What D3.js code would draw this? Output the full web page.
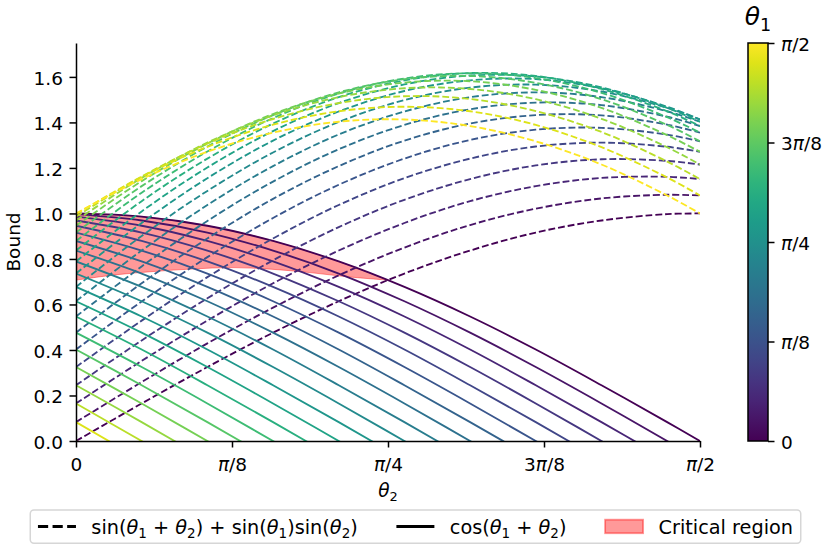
<!DOCTYPE html>
<html>
<head>
<meta charset="utf-8">
<script src="https://cdn.jsdelivr.net/npm/d3@7"></script>
<style>
  body { margin: 0; background: #fff; }
  svg { font-family: "DejaVu Sans", sans-serif; }
  text { white-space: pre; }
</style>
</head>
<body>
<svg id="chart" width="830" height="554"></svg>
<script>
// theta1 values (one curve pair per value), radians
const theta1 = [0, 0.0827, 0.1653, 0.2480, 0.3307, 0.4134, 0.4960, 0.5787, 0.6614, 0.7441,
                0.8267, 0.9094, 0.9921, 1.0748, 1.1574, 1.2401, 1.3228, 1.4054, 1.4881, 1.5708];

// theta2 positions where the curves were read
const theta2 = [0, 0.1653, 0.3307, 0.4960, 0.6614, 0.8267, 0.9921, 1.1574, 1.3228, 1.4881, 1.5708];

// dashed: sin(t1+t2) + sin(t1)sin(t2)
const sumBound = [
  [0, .165, .325, .476, .614, .736, .837, .916, .969, .997, 1],
  [.083, .259, .429, .586, .728, .850, .949, 1.021, 1.066, 1.082, 1.079],
  [.165, .352, .529, .693, .837, .958, 1.054, 1.120, 1.156, 1.161, 1.151],
  [.245, .442, .627, .794, .940, 1.060, 1.151, 1.211, 1.238, 1.231, 1.215],
  [.325, .529, .720, .890, 1.037, 1.155, 1.241, 1.294, 1.311, 1.293, 1.271],
  [.402, .613, .808, .980, 1.126, 1.241, 1.323, 1.368, 1.376, 1.346, 1.317],
  [.476, .693, .890, 1.064, 1.208, 1.320, 1.395, 1.432, 1.431, 1.390, 1.355],
  [.547, .767, .967, 1.140, 1.282, 1.389, 1.458, 1.487, 1.476, 1.425, 1.384],
  [.614, .837, 1.037, 1.208, 1.347, 1.448, 1.511, 1.532, 1.511, 1.449, 1.403],
  [.677, .901, 1.099, 1.268, 1.402, 1.498, 1.553, 1.566, 1.536, 1.464, 1.413],
  [.736, .958, 1.155, 1.320, 1.448, 1.538, 1.585, 1.590, 1.550, 1.469, 1.413],
  [.789, 1.009, 1.202, 1.362, 1.485, 1.567, 1.606, 1.602, 1.554, 1.464, 1.403],
  [.837, 1.054, 1.241, 1.395, 1.511, 1.585, 1.617, 1.604, 1.547, 1.449, 1.384],
  [.879, 1.091, 1.272, 1.419, 1.527, 1.593, 1.616, 1.595, 1.530, 1.423, 1.355],
  [.916, 1.120, 1.294, 1.432, 1.532, 1.590, 1.604, 1.574, 1.502, 1.389, 1.317],
  [.946, 1.142, 1.307, 1.437, 1.527, 1.575, 1.581, 1.543, 1.464, 1.344, 1.271],
  [.969, 1.156, 1.311, 1.431, 1.511, 1.550, 1.547, 1.502, 1.416, 1.291, 1.215],
  [.986, 1.162, 1.307, 1.415, 1.485, 1.515, 1.503, 1.450, 1.358, 1.228, 1.151],
  [.997, 1.161, 1.293, 1.390, 1.449, 1.469, 1.449, 1.389, 1.291, 1.158, 1.079],
  [1, 1.151, 1.271, 1.355, 1.403, 1.413, 1.384, 1.317, 1.215, 1.079, 1]
];

// solid: cos(t1+t2)
const cosBound = [
  [1, .986, .946, .879, .789, .677, .547, .402, .245, .083, 0],
  [.997, .969, .916, .837, .736, .614, .476, .325, .165, 0, -.083],
  [.986, .946, .879, .789, .677, .547, .402, .245, .083, -.083, -.165],
  [.969, .916, .837, .736, .614, .476, .325, .165, 0, -.165, -.245],
  [.946, .879, .789, .677, .547, .402, .245, .083, -.083, -.245, -.325],
  [.916, .837, .736, .614, .476, .325, .165, 0, -.165, -.325, -.402],
  [.879, .789, .677, .547, .402, .245, .083, -.083, -.245, -.402, -.476],
  [.837, .736, .614, .476, .325, .165, 0, -.165, -.325, -.476, -.547],
  [.789, .677, .547, .402, .245, .083, -.083, -.245, -.402, -.547, -.614],
  [.736, .614, .476, .325, .165, 0, -.165, -.325, -.476, -.614, -.677],
  [.677, .547, .402, .245, .083, -.083, -.245, -.402, -.547, -.677, -.736],
  [.614, .476, .325, .165, 0, -.165, -.325, -.476, -.614, -.736, -.789],
  [.547, .402, .245, .083, -.083, -.245, -.402, -.547, -.677, -.789, -.837],
  [.476, .325, .165, 0, -.165, -.325, -.476, -.614, -.736, -.837, -.879],
  [.402, .245, .083, -.083, -.245, -.402, -.547, -.677, -.789, -.879, -.916],
  [.325, .165, 0, -.165, -.325, -.476, -.614, -.736, -.837, -.916, -.946],
  [.245, .083, -.083, -.245, -.402, -.547, -.677, -.789, -.879, -.946, -.969],
  [.165, 0, -.165, -.325, -.476, -.614, -.736, -.837, -.916, -.969, -.986],
  [.083, -.083, -.245, -.402, -.547, -.677, -.789, -.879, -.946, -.986, -.997],
  [0, -.165, -.325, -.476, -.614, -.736, -.837, -.916, -.969, -.997, -1]
];

// critical region (pink band)
const regionTheta2 = [0, 0.0982, 0.1963, 0.2945, 0.3927, 0.4909, 0.5890, 0.6872, 0.7854];
const regionUpper = [1, 0.995, 0.981, 0.957, 0.924, 0.882, 0.831, 0.773, 0.707];
const regionLower = [0.707, 0.730, 0.745, 0.756, 0.762, 0.755, 0.740, 0.721, 0.707];

const angleTicks = [0, 0.3927, 0.7854, 1.1781, 1.5708];
const angleTickLabels = ["0", "π/8", "π/4", "3π/8", "π/2"];
const yTicks = [0, 0.2, 0.4, 0.6, 0.8, 1.0, 1.2, 1.4, 1.6];
const legendLabels = ["sin(θ1 + θ2) + sin(θ1)sin(θ2)", "cos(θ1 + θ2)", "Critical region"];

const fontSize = 18.5;
const legendFont = 19.3;
const lw = 1.85;
const tickLen = 6.5, tickPad = 6.5;

const svg = d3.select("#chart");

const x = d3.scaleLinear().domain([0, Math.PI / 2]).range([76, 700]);
const y = d3.scaleLinear().domain([0, 1.749]).range([441, 43]);
const color = d3.scaleSequential(d3.interpolateViridis).domain([0, Math.PI / 2]);

// mathtext-ish label: italic theta / pi, digit after theta as subscript
function mathLabel(el, str, size) {
    el.text(null);
    const shift = size * 0.22;
    let down = false;
    str.match(/θ\d?|π|[^θπ]+/g).forEach(tok => {
        let t;
        if (tok[0] === "θ" || tok === "π") {
            t = el.append("tspan").attr("font-style", "italic").text(tok[0]);
        } else {
            t = el.append("tspan").text(tok);
        }
        if (down) { t.attr("dy", -shift); down = false; }
        if (tok[0] === "θ" && tok.length > 1) {
            el.append("tspan").attr("font-size", size * 0.7).attr("dy", shift).text(tok.slice(1));
            down = true;
        }
    });
}

svg.append("defs").append("clipPath").attr("id", "plotClip")
    .append("rect")
    .attr("x", x.range()[0]).attr("y", y.range()[1])
    .attr("width", x.range()[1] - x.range()[0])
    .attr("height", y.range()[0] - y.range()[1]);

const plot = svg.append("g").attr("clip-path", "url(#plotClip)");

// critical region
const area = d3.area()
    .x((d, i) => x(regionTheta2[i]))
    .y0((d, i) => y(regionLower[i]))
    .y1(d => y(d))
    .curve(d3.curveCatmullRom.alpha(0.5));

plot.append("path")
    .attr("d", area(regionUpper))
    .attr("fill", "rgba(255,0,0,0.4)")
    .attr("stroke", "rgba(255,0,0,0.4)")
    .attr("stroke-width", 1);

const line = d3.line()
    .x((d, i) => x(theta2[i]))
    .y(d => y(d))
    .curve(d3.curveCatmullRom.alpha(0.5));

theta1.forEach((t1, k) => {
    plot.append("path")
        .attr("d", line(sumBound[k]))
        .attr("fill", "none")
        .attr("stroke", color(t1))
        .attr("stroke-width", lw)
        .attr("stroke-dasharray", `${3.7 * lw} ${1.6 * lw}`);
    plot.append("path")
        .attr("d", line(cosBound[k]))
        .attr("fill", "none")
        .attr("stroke", color(t1))
        .attr("stroke-width", lw);
});

// axes
function styleAxis(g) {
    g.selectAll("path.domain").attr("stroke", "#000").attr("stroke-width", 1.5);
    g.selectAll(".tick line").attr("stroke", "#000").attr("stroke-width", 1.5);
    g.selectAll(".tick text").attr("fill", "#000").attr("font-size", fontSize)
        .attr("font-family", "DejaVu Sans");
}

const xAxis = svg.append("g")
    .attr("transform", `translate(0,${y.range()[0]})`)
    .call(d3.axisBottom(x).tickValues(angleTicks).tickSize(tickLen).tickPadding(tickPad).tickSizeOuter(0));
styleAxis(xAxis);
xAxis.selectAll(".tick text").attr("dy", null).attr("y", 29.5)
    .each(function (d, i) { mathLabel(d3.select(this), angleTickLabels[i], fontSize); });

const yAxis = svg.append("g")
    .attr("transform", `translate(${x.range()[0]},0)`)
    .call(d3.axisLeft(y).tickValues(yTicks).tickFormat(d3.format(".1f"))
        .tickSize(tickLen).tickPadding(tickPad).tickSizeOuter(0));
styleAxis(yAxis);
yAxis.selectAll(".tick text").attr("dy", null).attr("y", 7.5);

svg.append("text")
    .attr("transform", `translate(20,${(y.range()[0] + y.range()[1]) / 2}) rotate(-90)`)
    .attr("text-anchor", "middle")
    .attr("font-size", fontSize)
    .text("Bound");

const xLabel = svg.append("text")
    .attr("x", (x.range()[0] + x.range()[1]) / 2)
    .attr("y", 496.5)
    .attr("text-anchor", "middle")
    .attr("font-size", fontSize);
mathLabel(xLabel, "θ2", fontSize);

// colorbar
const cbX = 748, cbW = 20;
const cb = d3.scaleLinear().domain([0, Math.PI / 2]).range([441, 43]);
const grad = svg.select("defs").append("linearGradient")
    .attr("id", "viridisGrad")
    .attr("x1", 0).attr("y1", 1).attr("x2", 0).attr("y2", 0);
d3.range(0, 1.0001, 0.05).forEach(t => {
    grad.append("stop").attr("offset", t).attr("stop-color", d3.interpolateViridis(t));
});
svg.append("rect")
    .attr("x", cbX).attr("y", cb.range()[1])
    .attr("width", cbW).attr("height", cb.range()[0] - cb.range()[1])
    .attr("fill", "url(#viridisGrad)")
    .attr("stroke", "#000").attr("stroke-width", 1.5);

const cbAxis = svg.append("g")
    .attr("transform", `translate(${cbX + cbW},0)`)
    .call(d3.axisRight(cb).tickValues(angleTicks).tickSize(tickLen).tickPadding(tickPad).tickSizeOuter(0));
styleAxis(cbAxis);
cbAxis.select("path.domain").remove();
cbAxis.selectAll(".tick text").attr("dy", null).attr("y", 7.5)
    .each(function (d, i) { mathLabel(d3.select(this), angleTickLabels[i], fontSize); });

const cbTitle = svg.append("text")
    .attr("x", cbX + cbW / 2)
    .attr("y", 25)
    .attr("text-anchor", "middle")
    .attr("font-size", 25);
mathLabel(cbTitle, "θ1", 25);

// legend
const handleLen = 38, textPad = 15.4, colSpace = 38.6, boxPad = 7.7;
const legend = svg.append("g");
const legendY = 526.5;
let cursor = 0;
legendLabels.forEach((label, i) => {
    if (i === 2) {
        legend.append("rect")
            .attr("x", cursor).attr("y", legendY - 6.8)
            .attr("width", handleLen).attr("height", 13.5)
            .attr("fill", "rgba(255,0,0,0.4)")
            .attr("stroke", "rgba(255,0,0,0.4)")
            .attr("stroke-width", lw);
    } else {
        legend.append("line")
            .attr("x1", cursor).attr("x2", cursor + handleLen)
            .attr("y1", legendY).attr("y2", legendY)
            .attr("stroke", "#000")
            .attr("stroke-width", 2.8)
            .attr("stroke-dasharray", i === 0 ? "10.2 4.4" : null);
    }
    const t = legend.append("text")
        .attr("x", cursor + handleLen + textPad)
        .attr("y", legendY + 7)
        .attr("font-size", legendFont);
    mathLabel(t, label, legendFont);
    cursor += handleLen + textPad + t.node().getComputedTextLength() + colSpace;
});
const legendW = cursor - colSpace;
legend.insert("rect", ":first-child")
    .attr("x", -boxPad).attr("y", 510)
    .attr("width", legendW + 2 * boxPad).attr("height", 33.3)
    .attr("rx", 3.7)
    .attr("fill", "#fff").attr("fill-opacity", 0.8)
    .attr("stroke", "#d6d6d6").attr("stroke-width", 1.5);
legend.attr("transform", `translate(${415.5 - legendW / 2},0)`);
</script>
</body>
</html>
